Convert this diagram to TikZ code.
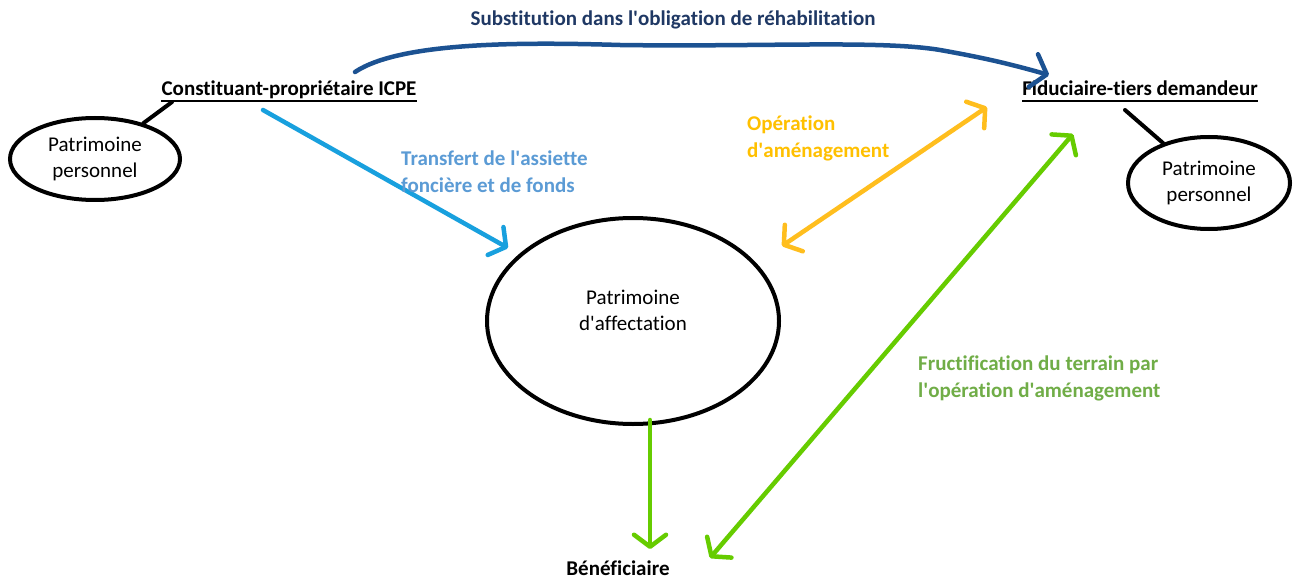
\documentclass[tikz,border=0pt]{standalone}
\usepackage{fontspec}
\setmainfont{Carlito}[Ligatures=CommonOff]
\usetikzlibrary{shapes.geometric,arrows.meta,calc}
\newcommand\apo{\textquotesingle}
\definecolor{navy}{RGB}{31,56,100}
\definecolor{curveblue}{RGB}{28,82,146}
\definecolor{lightblue}{RGB}{24,160,222}
\definecolor{labelblue}{RGB}{91,155,213}
\definecolor{amber}{RGB}{255,190,30}
\definecolor{amberlbl}{RGB}{255,192,0}
\definecolor{lime}{RGB}{102,204,0}
\definecolor{greenlbl}{RGB}{112,173,71}
\tikzset{
  txt/.style={font=\fontsize{21pt}{26pt}\selectfont, inner sep=0pt},
  bold/.style={txt, font=\fontsize{21pt}{27pt}\selectfont\bfseries},
  ell/.style={ellipse, draw=black, line width=4pt, inner sep=0pt, txt, align=center},
  arr/.style={line width=4.5pt, line cap=round, -{Straight Barb[length=12pt,width=32pt,round]}},
  darr/.style={line width=4.5pt, line cap=round, {Straight Barb[length=12pt,width=32pt,round]}-{Straight Barb[length=12pt,width=32pt,round]}},
  link/.style={line width=4pt, black},
  uline/.style={line width=2pt, black}
}
\begin{document}
\begin{tikzpicture}[x=1pt,y=-1pt]
\useasboundingbox (0,0) rectangle (1298,580);
\fill[white] (0,0) rectangle (1298,580);

% title
\node[bold, text=navy] (sub) at (673,20) {Substitution dans l\apo obligation de réhabilitation};

% main actors
\node[bold, anchor=base] (cp) at (289,96) {Constituant-propriétaire ICPE};
\node[bold, anchor=base] (ft) at (1140,96) {Fiduciaire-tiers demandeur};
\draw[uline] ($(cp.base west)+(0,5)$) -- ($(cp.base east)+(0,5)$);
\draw[uline] ($(ft.base west)+(0,5)$) -- ($(ft.base east)+(0,5)$);

% ellipses
\node[ell, minimum width=170pt, minimum height=82pt] (pl) at (95,159) {Patrimoine\\personnel};
\node[ell, minimum width=162pt, minimum height=92pt] (pr) at (1209,183) {Patrimoine\\personnel};
\node[ell, minimum width=292pt, minimum height=206pt] (pa) at (633,321) {Patrimoine\\d\apo affectation\\[-4pt]};

\node[bold, anchor=base] (ben) at (618,575) {Bénéficiaire};

% links
\coordinate (cpl) at (172,102);
\coordinate (ftl) at (1125,110);
\draw[link, line cap=round] (cpl) -- (pl);
\draw[link, line cap=round] (ftl) -- (pr);

% substitution curve
\coordinate (c0) at (355,72);
\coordinate (c1) at (1049,75);
\draw[curveblue, line width=4.5pt, line cap=round, -{Straight Barb[length=14pt,width=34pt,round]}]
  (c0) .. controls (400,42) and (520,42) .. (620,45)
  .. controls (760,47) and (880,40) .. (940,50)
  .. controls (985,58) and (1010,64) .. (c1);

% transfer arrow
\coordinate (t0) at (263,110);
\coordinate (t1) at (508,248);
\draw[arr, lightblue] (t0) -- (t1);
\node[bold, text=labelblue, anchor=west, align=left] (tl) at (401,172) {Transfert de l\apo assiette\\foncière et de fonds};

% operation arrow
\coordinate (o0) at (782,246);
\coordinate (o1) at (987,107);
\draw[darr, amber] (o0) -- (o1);
\node[bold, text=amberlbl, anchor=west, align=left] (ol) at (747,138) {Opération\\d\apo aménagement};

% green arrows
\coordinate (g0) at (650,420);
\coordinate (g1) at (650,549);
\draw[arr, lime] (g0) -- (g1);
\coordinate (h0) at (710,558);
\coordinate (h1) at (1073,134);
\draw[darr, lime] (h0) -- (h1);
\node[bold, text=greenlbl, anchor=west, align=left] (fl) at (918,378) {Fructification du terrain par\\l\apo opération d\apo aménagement};
\end{tikzpicture}
\end{document}
